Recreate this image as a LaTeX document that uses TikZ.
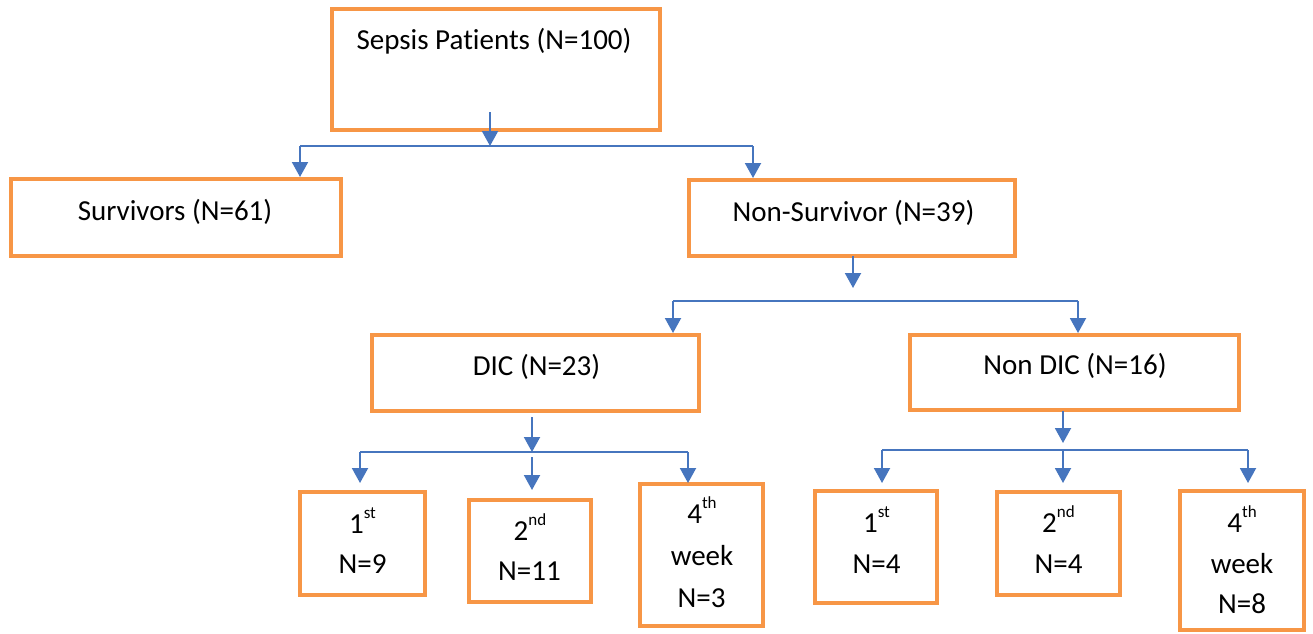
\documentclass[tikz,border=0pt]{standalone}
\usepackage{fontspec}
\setmainfont{Carlito}[Ligatures=NoCommon]
\usetikzlibrary{arrows.meta}
\definecolor{boxorange}{HTML}{F79646}
\definecolor{linkblue}{HTML}{4675BE}
\newcommand{\supx}[1]{\raisebox{15pt}{\fontsize{17}{20}\selectfont #1}}
\begin{document}
\begin{tikzpicture}[x=1pt,y=-1pt,
  box/.style={draw=boxorange, line width=4pt, fill=white, inner sep=0pt},
  lbl/.style={anchor=base, inner sep=0pt, font=\fontsize{29}{35}\selectfont},
  link/.style={draw=linkblue, line width=2pt},
  arr/.style={link, -{Triangle[width=16pt,length=15pt]}}]
\useasboundingbox (0,0) rectangle (1313,633);

% boxes
\node[box, minimum width=328pt, minimum height=121pt] (sepsis) at (496,69.5) {};
\node[box, minimum width=330pt, minimum height=77pt] (surv) at (176,217.5) {};
\node[box, minimum width=326pt, minimum height=76pt] (nonsurv) at (852,218) {};
\node[box, minimum width=327pt, minimum height=76pt] (dic) at (535.5,373) {};
\node[box, minimum width=329pt, minimum height=75pt] (nondic) at (1074.5,372.5) {};
\node[box, minimum width=125pt, minimum height=103pt] (b1) at (362.5,543.5) {};
\node[box, minimum width=122pt, minimum height=102pt] (b2) at (530,551) {};
\node[box, minimum width=123pt, minimum height=142pt] (b3) at (701.5,555) {};
\node[box, minimum width=122pt, minimum height=112pt] (b4) at (876,547) {};
\node[box, minimum width=123pt, minimum height=103pt] (b5) at (1058.5,543.5) {};
\node[box, minimum width=124pt, minimum height=139pt] (b6) at (1242,560.5) {};

% texts
\node[lbl] (tsepsis) at (494,49) {Sepsis Patients (N=100)};
\node[lbl] (tsurv) at (175,220) {Survivors (N=61)};
\node[lbl] (tnonsurv) at (853.5,221) {Non-Survivor (N=39)};
\node[lbl] (tdic) at (536.5,375) {DIC (N=23)};
\node[lbl] (tnondic) at (1075,374) {Non DIC (N=16)};

\node[lbl] (t1a) at (362.5,533) {1\supx{st}};
\node[lbl] (t1b) at (362.5,573) {N=9};
\node[lbl] (t2a) at (530,540) {2\supx{nd}};
\node[lbl] (t2b) at (529.5,580) {N=11};
\node[lbl] (t3a) at (702,523) {4\supx{th}};
\node[lbl] (t3b) at (702,565) {week};
\node[lbl] (t3c) at (701.5,607) {N=3};
\node[lbl] (t4a) at (876.5,532) {1\supx{st}};
\node[lbl] (t4b) at (876.5,573) {N=4};
\node[lbl] (t5a) at (1058.5,532) {2\supx{nd}};
\node[lbl] (t5b) at (1058.5,573) {N=4};
\node[lbl] (t6a) at (1242,532) {4\supx{th}};
\node[lbl] (t6b) at (1242,573) {week};
\node[lbl] (t6c) at (1242,613) {N=8};

% connectors: level 1
\coordinate (s0) at (490,112);
\coordinate (j1) at (490,146);
\coordinate (j1l) at (300,146);
\coordinate (j1r) at (753,146);
\draw[arr] (s0) -- (j1);
\draw[link] (j1l) -- (j1r);
\draw[arr] (j1l) -- (j1l |- surv.north);
\draw[arr] (j1r) -- (j1r |- nonsurv.north);

% level 2
\coordinate (n0) at (853,256);
\coordinate (n1) at (853,288);
\coordinate (j2l) at (673,301);
\coordinate (j2r) at (1078,301);
\draw[arr] (n0) -- (n1);
\draw[link] (j2l) -- (j2r);
\draw[arr] (j2l) -- (j2l |- dic.north);
\draw[arr] (j2r) -- (j2r |- nondic.north);

% level 3 (DIC)
\coordinate (d0) at (532,417);
\coordinate (d1) at (532,452);
\coordinate (j3l) at (360,452);
\coordinate (j3r) at (688,452);
\coordinate (d2) at (532,457);
\coordinate (e1) at (360,483);
\coordinate (e2) at (532,490);
\coordinate (e3) at (688,483);
\draw[arr] (d0) -- (d1);
\draw[link] (j3l) -- (j3r);
\draw[arr] (j3l) -- (e1);
\draw[arr] (d2) -- (e2);
\draw[arr] (j3r) -- (e3);

% level 3 (Non DIC)
\coordinate (m0) at (1063,411);
\coordinate (m1) at (1063,443);
\coordinate (j4l) at (882,450);
\coordinate (j4m) at (1063,450);
\coordinate (j4r) at (1248,450);
\coordinate (f1) at (882,483);
\coordinate (f2) at (1063,483);
\coordinate (f3) at (1248,483);
\draw[arr] (m0) -- (m1);
\draw[link] (j4l) -- (j4r);
\draw[arr] (j4l) -- (f1);
\draw[arr] (j4m) -- (f2);
\draw[arr] (j4r) -- (f3);
\end{tikzpicture}
\end{document}
